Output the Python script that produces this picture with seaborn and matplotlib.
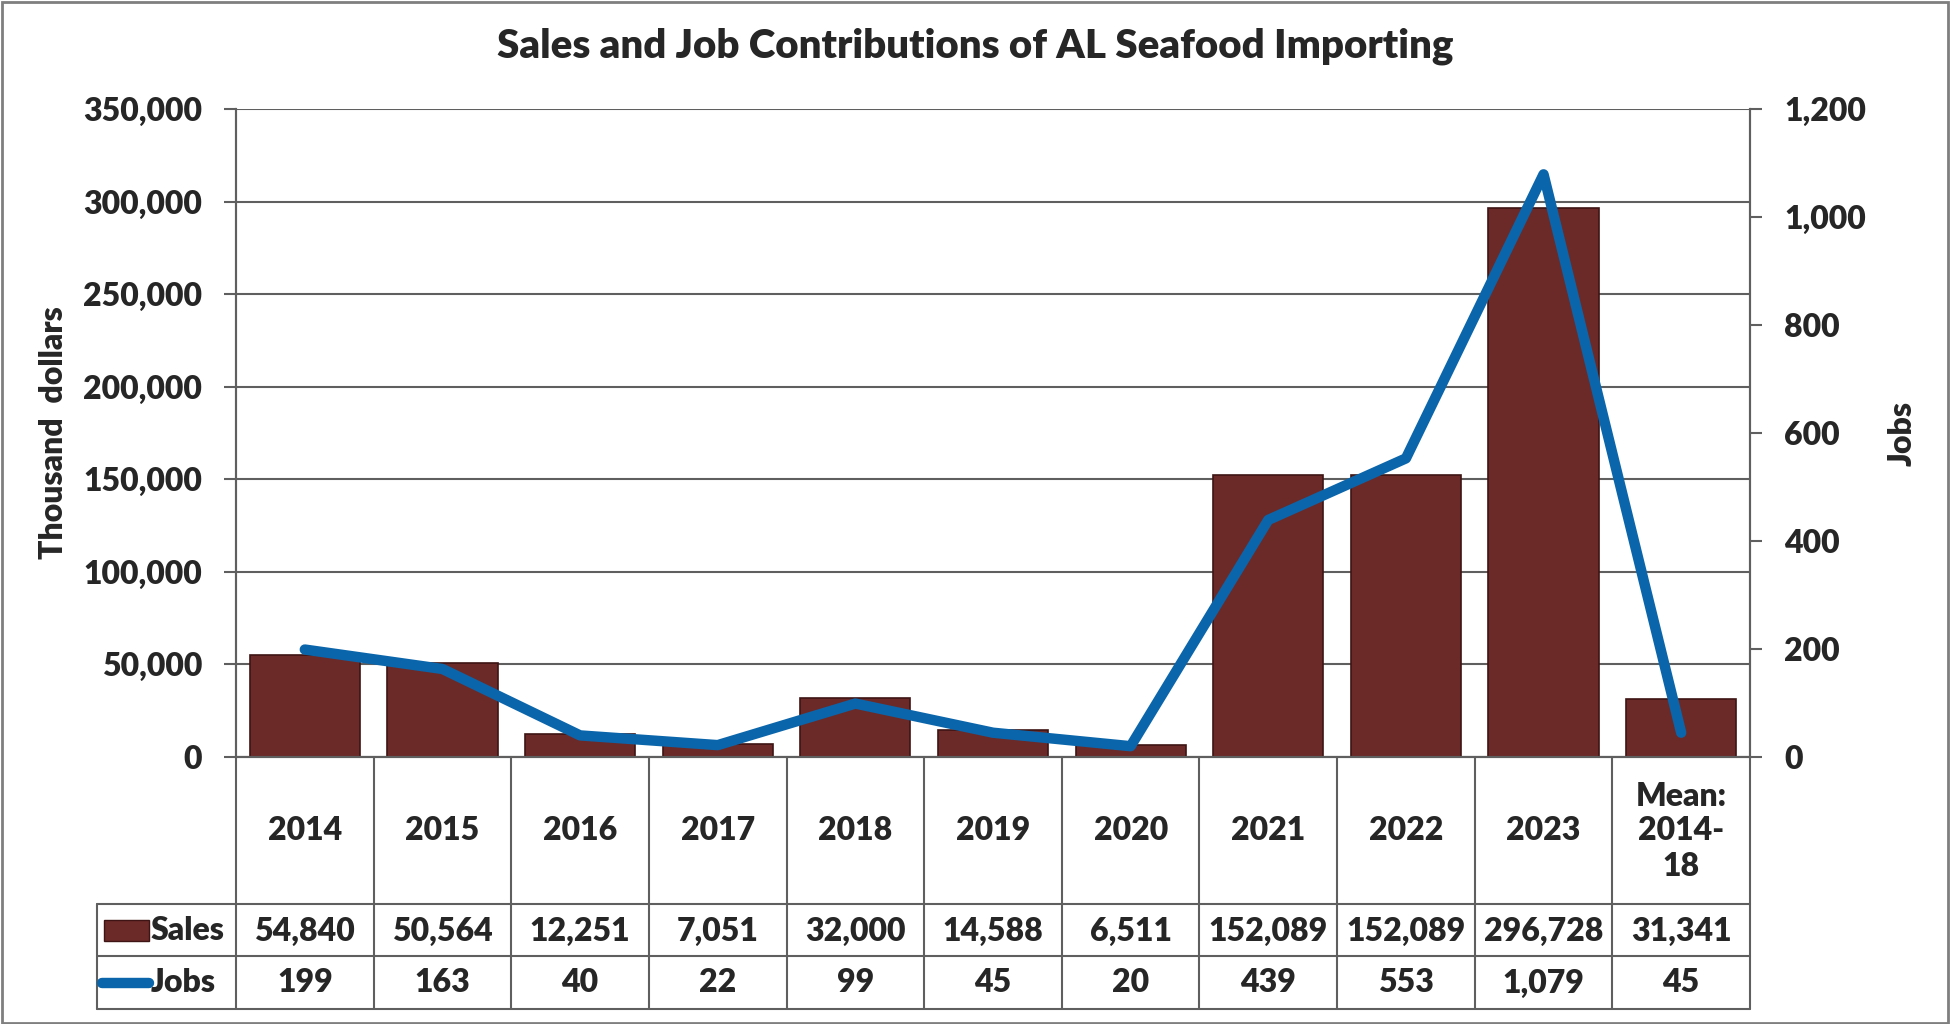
import numpy as np
import pandas as pd
import matplotlib
matplotlib.use("Agg")
import matplotlib.pyplot as plt
import matplotlib.transforms as mtransforms
from matplotlib.patches import Rectangle
from matplotlib.ticker import FuncFormatter, MultipleLocator
import seaborn as sns

# Datos
categories = ["2014", "2015", "2016", "2017", "2018", "2019", "2020",
              "2021", "2022", "2023", "Mean:\n2014-\n18"]
sales = [54840, 50564, 12251, 7051, 32000, 14588, 6511,
         152089, 152089, 296728, 31341]
jobs = [199, 163, 40, 22, 99, 45, 20, 439, 553, 1079, 45]

df = pd.DataFrame({"Year": categories, "Sales": sales, "Jobs": jobs})

sns.set_style("white")
plt.rcParams["font.family"] = ["Lato", "DejaVu Sans"]

BAR = "#6B2A28"
LINE = "#0B65AA"
GRID = "#5F5F5F"
WT = "heavy"
FS = 23
W, H = 1950, 1024


def fy(py):
    return 1 - py / H


fig = plt.figure(figsize=(19.5, 10.24), dpi=100)
ax = fig.add_axes([236 / W, fy(757), (1750 - 236) / W, (757 - 109) / H])

sns.barplot(data=df, x="Year", y="Sales", color=BAR, width=0.8,
            edgecolor="#3E1514", linewidth=1.2, saturation=1, ax=ax)
ax.set_xlim(-0.5, len(categories) - 0.5)
ax.set_ylim(0, 350000)
ax.yaxis.set_major_locator(MultipleLocator(50000))
ax.yaxis.set_major_formatter(FuncFormatter(lambda v, p: f"{v:,.0f}"))
ax.yaxis.grid(True, color=GRID, lw=1.5)
ax.set_axisbelow(True)
ax.set_xlabel("")
ax.set_ylabel("Thousand  dollars", fontsize=FS, fontweight=WT, labelpad=11)
ax.set_xticks([])
ax.tick_params(axis="y", length=8.5, width=1.5, color=GRID, labelsize=FS, pad=16)
for s in ["left", "bottom", "right", "top"]:
    ax.spines[s].set_color(GRID)
    ax.spines[s].set_linewidth(1.5)
ax.spines["top"].set_visible(False)

# Jobs on the secondary axis
ax2 = ax.twinx()
sns.lineplot(x=np.arange(len(categories)), y=jobs, color=LINE, lw=7.5,
             solid_capstyle="round", solid_joinstyle="round", ax=ax2)
ax2.set_ylim(0, 1200)
ax2.yaxis.set_major_locator(MultipleLocator(200))
ax2.yaxis.set_major_formatter(FuncFormatter(lambda v, p: f"{v:,.0f}"))
ax2.set_ylabel("Jobs", fontsize=FS, fontweight=WT, labelpad=16)
ax2.tick_params(axis="y", length=8.5, width=1.5, color=GRID, labelsize=FS, pad=16)
for s in ax2.spines.values():
    s.set_color(GRID)
    s.set_linewidth(1.5)
ax2.spines["top"].set_visible(False)
for lab in ax.get_yticklabels() + ax2.get_yticklabels():
    lab.set_fontweight(WT)

# Data table below the plot
blend = mtransforms.blended_transform_factory(ax.transData, fig.transFigure)
n = len(categories)
edges = np.arange(n + 1) - 0.5
for e in edges:
    ax.plot([e, e], [fy(757), fy(1009)], transform=blend, color=GRID,
            lw=1.5, clip_on=False)
leg_left = 97 / W
x_right = 1750 / W
for py in [904, 956, 1009]:
    fig.add_artist(plt.Line2D([leg_left, x_right], [fy(py), fy(py)],
                              transform=fig.transFigure, color=GRID, lw=1.5))
fig.add_artist(plt.Line2D([leg_left, leg_left], [fy(904), fy(1009)],
                          transform=fig.transFigure, color=GRID, lw=1.5))

for i, cat in enumerate(categories):
    ax.text(i, fy(831), cat, transform=blend, ha="center", va="center",
            fontsize=FS, fontweight=WT, linespacing=1.25)
    ax.text(i, fy(931), f"{sales[i]:,}", transform=blend, ha="center",
            va="center", fontsize=FS, fontweight=WT)
    ax.text(i, fy(983), f"{jobs[i]:,}", transform=blend, ha="center",
            va="center", fontsize=FS, fontweight=WT)

# Legend keys inside the table
fig.add_artist(Rectangle((104 / W, fy(941)), 45 / W, 21 / H,
                         transform=fig.transFigure, facecolor=BAR,
                         edgecolor="#3E1514", lw=1))
fig.add_artist(plt.Line2D([102 / W, 149 / W], [fy(983), fy(983)],
                          transform=fig.transFigure, color=LINE, lw=7.5,
                          solid_capstyle="round"))
fig.text(151 / W, fy(931), "Sales", ha="left", va="center", fontsize=FS,
         fontweight=WT)
fig.text(151 / W, fy(983), "Jobs", ha="left", va="center", fontsize=FS,
         fontweight=WT)

fig.text(975 / W, fy(46), "Sales and Job Contributions of AL Seafood Importing",
         ha="center", va="center", fontsize=29, fontweight=WT)

fig.add_artist(Rectangle((0.001, 0.001), 0.998, 0.997, transform=fig.transFigure,
                         fill=False, edgecolor="#7F7F7F", lw=2))

fig.savefig("out.png", dpi=100)
